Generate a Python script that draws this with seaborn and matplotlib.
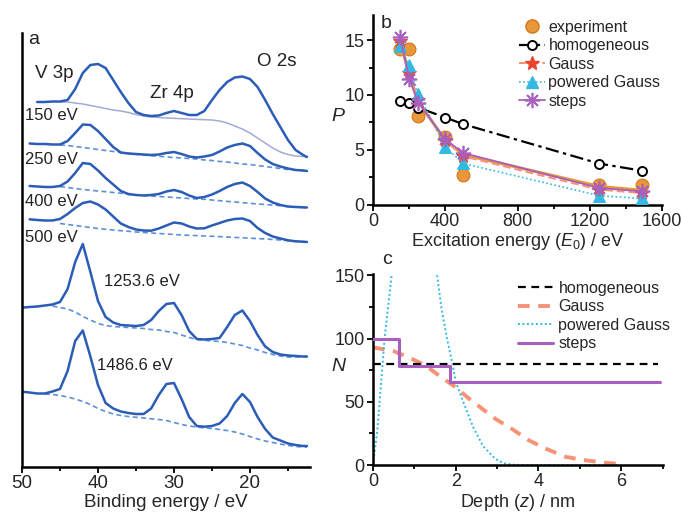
import numpy as np
import pandas as pd
import matplotlib
matplotlib.use("Agg")
import matplotlib.pyplot as plt
from matplotlib.lines import Line2D
from matplotlib.ticker import MultipleLocator
import seaborn as sns

sns.set_theme(style="white")
plt.rcParams["font.family"] = ["Liberation Sans", "DejaVu Sans"]
plt.rcParams["mathtext.fontset"] = "custom"
plt.rcParams["mathtext.rm"] = "Liberation Sans"
plt.rcParams["mathtext.it"] = "Liberation Sans:italic"

nan = np.nan
# ---------------- panel a : spectra (binding energy grid, arbitrary intensity) -------------
be_grid = [50, 49, 48, 47, 46, 45, 44, 43, 42, 41, 40, 39, 38, 37, 36, 35, 34, 33, 32, 31,
           30, 29, 28, 27, 26, 25, 24, 23, 22, 21, 20, 19, 18, 17, 16, 15, 14, 13, 12.5]

spec_150 = [nan, nan, 365, 365, 365.5, 365.5, 367, 378, 394, 402, 403, 399, 387, 375, 364, 355,
            352, 351, 351.5, 354, 356, 354, 352, 352, 356, 367, 377, 385, 389.5, 390.5, 388, 380,
            367, 353, 340, 327, 317, 312, 310]
bg_150 = [nan, nan, nan, nan, nan, 365, 365, 364, 363, 361.5, 360, 358.5, 357, 356, 354.5, 352.5,
          351, 350, 349.5, 349, 348.7, 348.3, 348, 347.6, 347.3, 347, 346, 344, 341, 338, 334,
          329, 324, 319, 315, 312.5, 311, 310.5, 310]

spec_250 = [nan, 323.5, 323, 323, 322.5, 322.5, 326, 334, 342.5, 342, 336, 328, 320, 314.5, 313.5,
            313, 312.5, 312, 312.5, 314, 315, 313, 310.5, 309.5, 310.5, 312, 315.5, 319.5, 322,
            323.5, 321, 314, 307.5, 303, 300.5, 298.5, 297, 296.5, 296]
bg_250 = [nan, nan, nan, nan, nan, 322, 321.5, 320.5, 319.5, 318.5, 317.5, 316.5, 315.5, 314.5,
          313.5, 312.7, 312, 311.3, 310.7, 310, 309.5, 309, 308.5, 308, 307, 306.5, 305.5, 305,
          304, 303, 302.5, 301.5, 300.5, 299.5, 298.5, 297.5, 297, 296.5, 296]

spec_400 = [nan, 281, 280.5, 280, 280, 281, 285.5, 294, 304, 303, 296.5, 289, 282.5, 276, 273,
            272, 271.5, 272, 273, 275.5, 277, 275, 271.5, 269, 270, 272.5, 276, 280, 283, 284.5,
            281, 275, 268.5, 264.5, 262, 260.5, 260, 259.7, 259.5]
bg_400 = [nan, nan, nan, nan, nan, 280.5, 279.5, 278.5, 277.5, 276.8, 276, 275.3, 274.5, 273.8,
          272.5, 272, 271.5, 271, 270.5, 270, 269.5, 269, 268.5, 268, 267.7, 267, 266.3, 265.6,
          265, 264.3, 263.7, 263, 262.5, 262, 261.3, 260.6, 260, 259.5, 259.3]

spec_500 = [nan, 247.7, 247, 246.5, 246.5, 248, 253, 259, 264, 265.5, 262.5, 257.5, 250.5, 243.5,
            240, 237.5, 236.5, 236.3, 238.5, 241.5, 244.5, 243.5, 240.5, 238.5, 238.7, 241.5, 244,
            246.5, 248, 248.5, 246, 239, 234, 230.5, 228.5, 226.7, 225.7, 225.3, 225]
bg_500 = [nan, nan, nan, nan, nan, 243.5, 242.5, 241.5, 240.5, 239.5, 238.5, 237.7, 237, 236.3,
          235.7, 235, 234.5, 234, 233.5, 233, 232.5, 232, 231.7, 231.4, 231, 230.7, 230.4, 230,
          229.6, 229.2, 228.8, 228.4, 228, 227.5, 227, 226.3, 225.7, 225.3, 225]

spec_1253 = [159.3, 160, 160.5, 161.5, 162.5, 165, 178, 205, 223, 195, 166, 150, 144.5, 142, 141.5,
             141, 142, 147, 156, 163, 164, 152, 136, 128, 127.5, 128, 129, 140, 152, 156.5, 146,
             132, 120.5, 115, 112.5, 111.5, 111, 110.5, 110.5]
bg_1253 = [nan, nan, nan, nan, 161, 159.5, 158, 155, 150.5, 147, 143.5, 141.5, 140.5, 140, 139.5,
           139, 138.5, 137.5, 137, 135.5, 134.5, 132, 129.5, 127.5, 126.8, 126, 125.5, 124.5, 123,
           121.5, 119, 117, 114.5, 112.5, 111, 110, 110, 110.3, 110.5]

spec_1486 = [75.3, 74.5, 73.5, 73.5, 75.5, 78, 96, 126, 136.5, 110.5, 82, 64, 58.5, 55.5, 54, 53,
             53, 58.5, 72, 83, 84, 68, 50, 41, 40.3, 41, 43.5, 51, 64, 73, 65, 50, 38, 29.5, 26.5,
             23.5, 22, 21, 21]
bg_1486 = [nan, nan, nan, 73, 72.5, 71.5, 70, 68, 65.5, 62.5, 58.5, 55.5, 53, 51.5, 50.5, 49.7, 49,
           48.2, 47.5, 46.5, 44.5, 42.5, 41, 40, 39, 38.5, 37.5, 36.5, 35, 33, 30.5, 28, 26, 24.5,
           23, 21.5, 20.5, 20, 20]

# ---------------- panel b : P versus excitation energy ----------------
e0 = [150, 200, 250, 400, 500, 1253.6, 1486.6]
p_experiment = [14.2, 14.2, 8.1, 6.2, 2.7, 1.8, 1.75]
p_homogeneous = [9.45, 9.24, 8.85, 7.94, 7.33, 3.73, 3.09]
p_gauss = [14.9, 12.0, 9.5, 5.9, 4.4, 1.35, 1.05]
p_powered = [14.5, 12.7, 10.1, 5.25, 3.75, 0.8, 0.55]
p_steps = [15.3, 11.5, 9.3, 5.95, 4.7, 1.5, 1.2]
p_fit = [14.9, 11.9, 9.4, 5.85, 4.55, 1.65, 1.3]

# ---------------- panel c : depth profiles ----------------
z_homog = [0, 6.9]
n_homog = [80, 80]
z_gauss = [0, 0.5, 1.0, 1.3, 1.6, 2.0, 2.32, 2.64, 2.96, 3.36, 3.77, 4.17, 4.65, 5.1, 5.6, 6.0]
n_gauss = [93, 90, 83, 78, 70.6, 61.5, 52.5, 44.5, 36.5, 28.5, 19.5, 13, 6.5, 3.9, 1.8, 0.8]
z_pg_rise = [0, 0.1, 0.16, 0.28, 0.45]
n_pg_rise = [0, 26, 50, 100, 150]
z_pg_fall = [1.55, 1.65, 1.79, 1.92, 2.0, 2.18, 2.42, 2.66, 2.95, 3.15, 3.35, 3.6, 6.0]
n_pg_fall = [150, 125, 100, 80, 66, 50, 30, 15, 5, 1.5, 0.3, 0, 0]
z_steps = [0, 0.62, 1.87, 6.95]
n_steps = [100, 78, 66, 66]

# ---------------- colours ----------------
c_spec = "#2C5DB6"
c_bg = "#5C90DA"
c_bg150 = "#A3AAD6"
c_orange = "#E8973A"
c_salmon = "#F69376"
c_red = "#E9452E"
c_cyan = "#33B9E2"
c_purple = "#A95FBE"

W, H = 681, 518
fig = plt.figure(figsize=(W / 100, H / 100), dpi=100)


def frac(l, t, r, b):
    return [l / W, 1 - b / H, (r - l) / W, (b - t) / H]


ax_a = fig.add_axes(frac(22, 33, 310, 467))
ax_b = fig.add_axes(frac(373, 15, 662, 204.5))
ax_c = fig.add_axes(frac(373, 274, 662.5, 465))

for ax in (ax_a, ax_b, ax_c):
    ax.set_facecolor("none")
    for s in ("top", "right"):
        ax.spines[s].set_visible(False)
    for s in ("left", "bottom"):
        ax.spines[s].set_color("black")
        ax.spines[s].set_linewidth(1.8)
    ax.tick_params(which="both", direction="out", color="black", width=1.3,
                   bottom=True, left=True, pad=2)
    ax.tick_params(which="major", length=4)
    ax.tick_params(which="minor", length=3)


def draw(ax, x, y, **kw):
    d = pd.DataFrame({"x": x, "y": y}).dropna()
    sns.lineplot(data=d, x="x", y="y", ax=ax, estimator=None, sort=False, **kw)


# ---- panel a ----
spectra = [spec_150, spec_250, spec_400, spec_500, spec_1253, spec_1486]
backgrounds = [bg_150, bg_250, bg_400, bg_500, bg_1253, bg_1486]
for i, (sp, bg) in enumerate(zip(spectra, backgrounds)):
    if i == 0:
        draw(ax_a, be_grid, bg, color=c_bg150, lw=1.1)
    else:
        draw(ax_a, be_grid, bg, color=c_bg, lw=1.2, dashes=(3, 2))
    draw(ax_a, be_grid, sp, color=c_spec, lw=1.8)

ax_a.set_xlim(50, 12.1)
ax_a.set_ylim(0, 434)
ax_a.set_yticks([])
ax_a.set_xticks([50, 40, 30, 20])
ax_a.xaxis.set_minor_locator(MultipleLocator(5))
ax_a.tick_params(axis="x", labelsize=13.5)
ax_a.set_xlabel("Binding energy / eV", fontsize=13.5, labelpad=1)
ax_a.set_ylabel("")
ta = dict(color="#222222")
ax_a.text(49.2, 428, "a", fontsize=14, va="center", ha="left", **ta)
ax_a.text(48.3, 393, "V 3p", fontsize=13.5, va="center", ha="left", **ta)
ax_a.text(30.3, 374, "Zr 4p", fontsize=13.5, va="center", ha="center", **ta)
ax_a.text(16.45, 406, "O 2s", fontsize=13.5, va="center", ha="center", **ta)
ax_a.text(49.6, 351, "150 eV", fontsize=12, va="center", ha="left", **ta)
ax_a.text(49.6, 307, "250 eV", fontsize=12, va="center", ha="left", **ta)
ax_a.text(49.6, 266, "400 eV", fontsize=12, va="center", ha="left", **ta)
ax_a.text(49.6, 229, "500 eV", fontsize=12, va="center", ha="left", **ta)
ax_a.text(39.2, 186, "1253.6 eV", fontsize=12, va="center", ha="left", **ta)
ax_a.text(40.1, 101, "1486.6 eV", fontsize=12, va="center", ha="left", **ta)

# ---- panel b ----
sns.scatterplot(x=e0, y=p_experiment, ax=ax_b, s=85, color=c_orange,
                edgecolor="#D2781C", linewidth=0.8, zorder=2)
draw(ax_b, e0, p_fit, color=c_orange, lw=2.2, zorder=3)
draw(ax_b, e0, p_homogeneous, color="black", lw=1.6, dashes=(6, 2, 1.5, 2),
     marker="o", markersize=6.5, markerfacecolor="white", markeredgecolor="black",
     markeredgewidth=1.4, zorder=4)
draw(ax_b, e0, p_gauss, color=c_salmon, lw=1.4, dashes=(4, 2), marker="*",
     markersize=10, markerfacecolor=c_red, markeredgecolor=c_red, zorder=4)
draw(ax_b, e0, p_powered, color=c_cyan, lw=1.2, dashes=(1, 1.5), marker="^",
     markersize=8, markerfacecolor=c_cyan, markeredgecolor=c_cyan, zorder=4)
draw(ax_b, e0, p_steps, color=c_purple, lw=1.3, marker=(8, 2, 0),
     markersize=11, markeredgecolor=c_purple, markeredgewidth=1.2, zorder=5)

ax_b.set_xlim(0, 1600)
ax_b.set_ylim(0, 17.3)
ax_b.set_xticks([0, 400, 800, 1200, 1600])
ax_b.set_yticks([0, 5, 10, 15])
ax_b.xaxis.set_minor_locator(MultipleLocator(200))
ax_b.yaxis.set_minor_locator(MultipleLocator(2.5))
ax_b.tick_params(labelsize=13)
ax_b.set_xlabel(r"Excitation energy ($\mathit{E}_0$) / eV", fontsize=13, labelpad=1)
ax_b.set_ylabel("$P$", fontsize=14, rotation=0)
ax_b.yaxis.set_label_coords(-0.118, 0.42)
ax_b.text(0.025, 1.0, "b", transform=ax_b.transAxes, fontsize=14, va="top", ha="left")

hb = [
    Line2D([], [], ls="none", marker="o", markersize=9.5, markerfacecolor=c_orange,
           markeredgecolor="#D2781C"),
    Line2D([], [], color="black", lw=1.6, dashes=(6, 2, 1.5, 2), marker="o", markersize=6.5,
           markerfacecolor="white", markeredgecolor="black", markeredgewidth=1.4),
    Line2D([], [], color=c_salmon, lw=1.4, dashes=(4, 2), marker="*", markersize=10,
           markerfacecolor=c_red, markeredgecolor=c_red),
    Line2D([], [], color=c_cyan, lw=1.2, dashes=(1, 1.5), marker="^", markersize=8,
           markerfacecolor=c_cyan, markeredgecolor=c_cyan),
    Line2D([], [], color=c_purple, lw=1.3, marker=(8, 2, 0), markersize=11,
           markeredgecolor=c_purple, markeredgewidth=1.2),
]
lb = ["experiment", "homogeneous", "Gauss", "powered Gauss", "steps"]
ax_b.legend(hb, lb, loc="upper left", bbox_to_anchor=(0.505, 0.975), frameon=False,
            fontsize=11.5, borderpad=0, borderaxespad=0, handlelength=1.6,
            handletextpad=0.25, labelspacing=0.22)

# ---- panel c ----
draw(ax_c, z_homog, n_homog, color="black", lw=1.6, dashes=(3.5, 2.5), zorder=3)
draw(ax_c, z_gauss, n_gauss, color=c_salmon, lw=2.8, dashes=(3, 2.2), zorder=2)
draw(ax_c, z_pg_rise, n_pg_rise, color=c_cyan, lw=1.4, dashes=(1, 1.3), zorder=2)
draw(ax_c, z_pg_fall, n_pg_fall, color=c_cyan, lw=1.4, dashes=(1, 1.3), zorder=2)
draw(ax_c, z_steps, n_steps, color=c_purple, lw=2.2, drawstyle="steps-post", zorder=4)

ax_c.set_xlim(0, 7)
ax_c.set_ylim(0, 151)
ax_c.set_xticks([0, 2, 4, 6])
ax_c.set_yticks([0, 50, 100, 150])
ax_c.xaxis.set_minor_locator(MultipleLocator(1))
ax_c.yaxis.set_minor_locator(MultipleLocator(25))
ax_c.tick_params(labelsize=13)
ax_c.set_xlabel(r"Depth ($\mathit{z}$) / nm", fontsize=13, labelpad=1)
ax_c.set_ylabel("$N$", fontsize=14, rotation=0)
ax_c.yaxis.set_label_coords(-0.118, 0.47)
ax_c.text(0.03, 1.075, "c", transform=ax_c.transAxes, fontsize=14, va="center", ha="left")

hc = [
    Line2D([], [], color="black", lw=1.6, dashes=(3.5, 2.5)),
    Line2D([], [], color=c_salmon, lw=2.8, dashes=(3, 2.2)),
    Line2D([], [], color=c_cyan, lw=1.4, dashes=(1, 1.3)),
    Line2D([], [], color=c_purple, lw=2.2),
]
lc = ["homogeneous", "Gauss", "powered Gauss", "steps"]
ax_c.legend(hc, lc, loc="upper left", bbox_to_anchor=(0.5, 0.965), frameon=False,
            fontsize=11.5, borderpad=0, borderaxespad=0, handlelength=2.2,
            handletextpad=0.35, labelspacing=0.22)

fig.savefig("out.png", dpi=100)
